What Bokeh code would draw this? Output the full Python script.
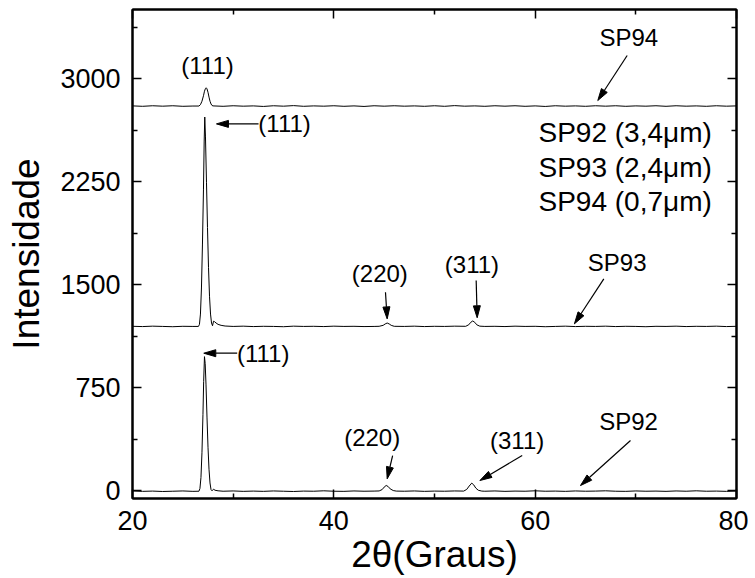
import math
from bokeh.plotting import figure
from bokeh.models import FixedTicker, LinearAxis, Range1d
from bokeh.core.properties import value
from bokeh.embed import file_html
from bokeh.resources import INLINE

FONT = "Liberation Sans"

# ---------------- data ----------------
sp92_x = [20, 21, 22, 23, 24, 25, 26,
          26.6, 26.7, 26.8, 26.9, 27.0, 27.07, 27.15, 27.22, 27.3, 27.4, 27.5, 27.6, 27.7, 27.8, 27.9,
          28.05, 28.2, 28.5,
          29, 30, 31, 32, 33, 34, 35, 36, 37, 38, 39, 40, 41, 42, 43, 44,
          44.5, 44.8, 45.0, 45.2, 45.4, 45.6, 45.9, 46.2,
          47, 48, 49, 50, 51, 52,
          52.9, 53.2, 53.45, 53.7, 53.9, 54.1, 54.35, 54.7,
          55, 56, 57, 58, 59, 60, 61, 62, 63, 64, 65, 66, 67, 68, 69, 70, 71, 72, 73, 74, 75, 76, 77, 78, 79, 80]
sp92_y = [-3, -6, -4, -7, -5, -3, -6,
          -5, 15, 95, 275, 555, 795, 975, 925, 775, 535, 315, 155, 55, 7, -2,
          10, 2, -2,
          -5, -3, -6, -4, -6, -3, -5, -7, -4, -5, -2, -5, -6, -3, -5, -4,
          -3, 7, 25, 37, 29, 12, 0, -4,
          -5, -3, -6, -4, -5, -3,
          -4, 8, 33, 54, 41, 18, 2, -4,
          -5, -3, -6, -4, -5, -2, -5, -4, -6, -3, -5, -4, -2, -5, -6, -3, -5, -4, -6, -3, -5, -2, -5, -4, -6, -4]

sp93_x = [20, 21, 22, 23, 24, 25, 26,
          26.55, 26.65, 26.75, 26.85, 26.95, 27.05, 27.12, 27.18, 27.25, 27.35, 27.45, 27.55, 27.65, 27.75, 27.85, 27.95,
          28.05, 28.15, 28.3, 28.5, 28.8, 29.2,
          30, 31, 32, 33, 34, 35, 36, 37, 38, 39, 40, 41, 42, 43, 44,
          44.5, 44.9, 45.1, 45.3, 45.5, 45.7, 46.0,
          47, 48, 49, 50, 51, 52,
          53.1, 53.4, 53.6, 53.8, 54.0, 54.2, 54.5,
          55, 56, 57, 58, 59, 60, 61, 62, 63, 64, 65, 66, 67, 68, 69, 70, 71, 72, 73, 74, 75, 76, 77, 78, 79, 80]
sp93_y = [-4, -6, -3, -5, -7, -4, -5,
          -5, 10, 85, 275, 595, 995, 1345, 1520, 1375, 1045, 715, 425, 215, 85, 20, 0,
          33, 30, 20, 10, 3, -2,
          -5, -3, -6, -4, -5, -7, -3, -5, -4, -6, -3, -5, -4, -6, -5,
          -4, 3, 13, 20, 13, 3, -4,
          -5, -3, -6, -4, -5, -3,
          -4, 7, 25, 35, 25, 7, -3,
          -5, -4, -6, -3, -5, -4, -7, -5, -3, -6, -4, -5, -3, -6, -4, -5, -7, -4, -5, -3, -6, -4, -5, -3, -6, -4]

sp94_x = [20, 21, 22, 23, 24, 25, 26,
          26.6, 26.75, 26.9, 27.05, 27.15, 27.25, 27.32, 27.4, 27.5, 27.6, 27.7, 27.8, 27.9,
          28, 29, 30, 31, 32, 33, 34, 35, 36, 37,
          38, 39, 40, 41, 42, 43, 44, 45, 46, 47,
          48, 49, 50, 51, 52, 53, 54, 55, 56, 57,
          58, 59, 60, 61, 62, 63, 64, 65, 66, 67,
          68, 69, 70, 71, 72, 73, 74, 75, 76, 77,
          78, 79, 80]
sp94_y = [1, -2, 2, -1, 2, -2, 0,
          0, 10, 35, 75, 108, 128, 133, 125, 100, 65, 35, 15, 4,
          1, -2, 2, -1, 1, -3, 2, -1, 3, -2,
          1, -1, 2, -2, 1, -3, 2, -1, 2, -1,
          1, -2, 2, -2, 3, -1, 1, -2, 2, -1,
          2, -2, 1, -3, 2, -1, 1, -2, 2, -1,
          2, -2, 1, -1, 2, -2, 2, -1, 1, -2,
          2, -1, 1]

series_names = ["SP92", "SP93", "SP94"]
series_offsets = [0, 1200, 2800]
series_x = [sp92_x, sp93_x, sp94_x]
series_y = [sp92_y, sp93_y, sp94_y]

x_ticks = [20, 40, 60, 80]
x_minor_ticks = [30, 50, 70]
y_ticks = [0, 750, 1500, 2250, 3000]
y_minor_ticks = [375, 1125, 1875, 2625, 3375]

legend_lines = ["SP92 (3,4\u03bcm)", "SP93 (2,4\u03bcm)", "SP94 (0,7\u03bcm)"]

# annotation labels (centered) and arrows (tail -> tip), in data coordinates
label_text = ["(111)", "(220)", "(311)", "SP93", "SP94", "(220)", "(311)", "SP92"]
label_x = [27.45, 44.57, 53.72, 68.15, 69.30, 43.81, 58.21, 69.27]
label_y = [3095, 1580, 1646, 1662, 3301, 388, 364, 506]
left_label_text = ["(111)", "(111)"]
left_label_x = [32.50, 30.38]
left_label_y = [2670, 1000]
arrow_x0 = [32.52, 30.40, 45.13, 54.14, 66.82, 69.14, 45.84, 58.71, 69.47]
arrow_y0 = [2670, 1000, 1444, 1529, 1541, 3168, 255, 255, 364]
arrow_x1 = [28.34, 27.08, 45.30, 54.24, 63.90, 66.22, 45.30, 54.51, 64.50]
arrow_y1 = [2670, 1000, 1250, 1258, 1214, 2840, 85, 73, 36]

# ---------------- layout ----------------
X_RANGE = (20, 80)
Y_RANGE = (-58, 3503)
FRAME_W, FRAME_H = 604, 489

p = figure(frame_width=FRAME_W, frame_height=FRAME_H,
           x_range=Range1d(*X_RANGE), y_range=Range1d(*Y_RANGE),
           output_backend="svg", toolbar_location=None,
           min_border_left=132, min_border_top=9, min_border_right=12, min_border_bottom=79)
p.background_fill_color = "white"
p.border_fill_color = "white"
p.xgrid.visible = False
p.ygrid.visible = False
p.outline_line_color = "black"
p.outline_line_width = 2


def style_axis(ax):
    ax.axis_line_width = 2
    ax.axis_line_color = "black"
    ax.major_tick_in = 9
    ax.major_tick_out = 0
    ax.minor_tick_in = 5
    ax.minor_tick_out = 0
    ax.major_tick_line_width = 1.5
    ax.minor_tick_line_width = 1.5
    ax.major_tick_line_color = "black"
    ax.minor_tick_line_color = "black"
    ax.major_label_text_font = FONT
    ax.major_label_text_font_size = "27px"
    ax.major_label_text_color = "black"
    ax.major_label_standoff = 12


p.xaxis.ticker = FixedTicker(ticks=x_ticks, minor_ticks=x_minor_ticks)
p.yaxis.ticker = FixedTicker(ticks=y_ticks, minor_ticks=y_minor_ticks)
style_axis(p.xaxis[0])
style_axis(p.yaxis[0])

p.xaxis.axis_label = "2\u03b8(Graus)"
p.yaxis.axis_label = "Intensidade"
for ax in (p.xaxis[0], p.yaxis[0]):
    ax.axis_label_text_font = FONT
    ax.axis_label_text_font_size = "37px"
    ax.axis_label_text_font_style = "normal"
    ax.axis_label_text_color = "black"
p.xaxis.axis_label_standoff = 1
p.yaxis.axis_label_standoff = 10

top_ax = LinearAxis(ticker=FixedTicker(ticks=x_ticks, minor_ticks=x_minor_ticks),
                    major_label_overrides={t: "" for t in x_ticks})
right_ax = LinearAxis(ticker=FixedTicker(ticks=y_ticks, minor_ticks=y_minor_ticks),
                      major_label_overrides={t: "" for t in y_ticks})
style_axis(top_ax)
style_axis(right_ax)
top_ax.major_label_standoff = 0
right_ax.major_label_standoff = 0
p.add_layout(top_ax, "above")
p.add_layout(right_ax, "right")

for xs, ys, off in zip(series_x, series_y, series_offsets):
    p.line(xs, [v + off for v in ys], line_color="black", line_width=1)

# annotation texts
p.text(x=label_x, y=label_y, text=label_text, text_font=value(FONT), text_font_size="24px",
       text_align="center", text_baseline="middle", text_color="black")
p.text(x=left_label_x, y=left_label_y, text=left_label_text, text_font=value(FONT), text_font_size="24px",
       text_align="left", text_baseline="middle", text_color="black")

# legend-like text block
leg_y = [2607, 2352, 2104]
p.text(x=[60.33] * 3, y=leg_y, text=legend_lines, text_font=value(FONT), text_font_size="28px",
       text_align="left", text_baseline="middle", text_color="black")

# arrows: shafts + filled heads computed in screen space
sx = FRAME_W / (X_RANGE[1] - X_RANGE[0])
sy = FRAME_H / (Y_RANGE[1] - Y_RANGE[0])
HEAD_L, HEAD_W = 12.0, 3.5
seg_x0, seg_y0, seg_x1, seg_y1 = [], [], [], []
head_xs, head_ys = [], []
for x0, y0, x1, y1 in zip(arrow_x0, arrow_y0, arrow_x1, arrow_y1):
    dx = (x1 - x0) * sx
    dy = (y1 - y0) * sy
    L = math.hypot(dx, dy)
    ux, uy = dx / L, dy / L
    bx = x1 - ux * HEAD_L / sx
    by = y1 - uy * HEAD_L / sy
    nx, ny = -uy, ux
    seg_x0.append(x0); seg_y0.append(y0); seg_x1.append(bx); seg_y1.append(by)
    head_xs.append([x1, bx + nx * HEAD_W / sx, bx - nx * HEAD_W / sx])
    head_ys.append([y1, by + ny * HEAD_W / sy, by - ny * HEAD_W / sy])
p.segment(x0=seg_x0, y0=seg_y0, x1=seg_x1, y1=seg_y1, line_color="black", line_width=1.2)
p.patches(xs=head_xs, ys=head_ys, fill_color="black", line_color="black", line_width=1)

open("out.html", "w").write(file_html(p, INLINE))
